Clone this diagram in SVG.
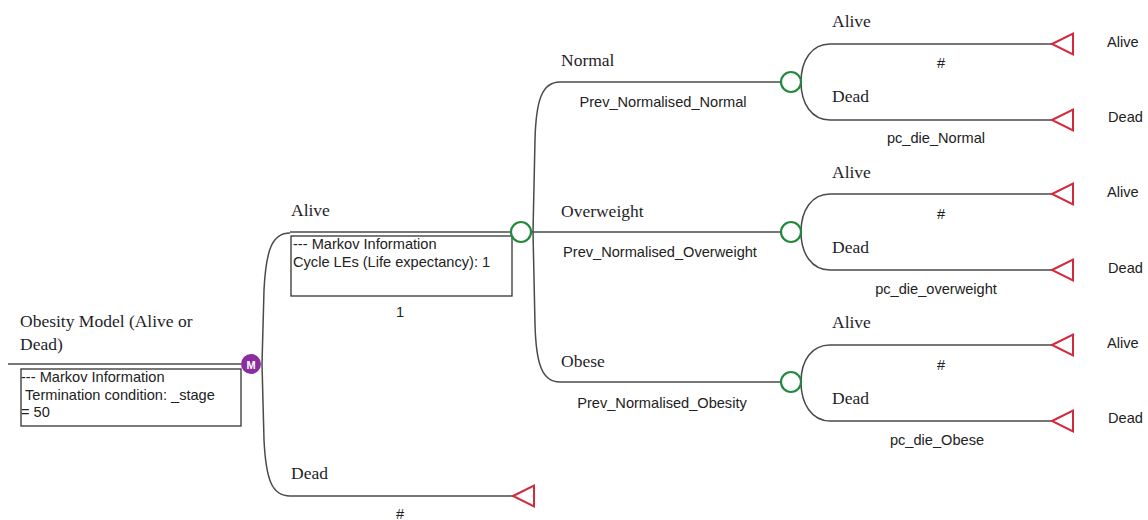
<svg xmlns="http://www.w3.org/2000/svg" width="1148" height="520" viewBox="0 0 1148 520">
<defs>
<style>
.ln{fill:none;stroke:#4a4a4a;stroke-width:1.5}
.box{fill:#fff;stroke:#333;stroke-width:1.3}
.ch{fill:#fff;stroke:#23893f;stroke-width:2.2}
.tm{fill:#fff;stroke:#d2293c;stroke-width:2}
.lbl{font-family:"Liberation Serif","Times New Roman",serif;font-size:17.5px;fill:#1e1e28}
.sm{font-family:"Liberation Sans",Arial,sans-serif;font-size:14.6px;fill:#222}
.mid{text-anchor:middle}
</style>
<polygon id="tri" points="0,0 21,-10.5 21,10.5"/>
</defs>
<rect width="1148" height="520" fill="#fff"/>
<g id="connectors">
<line class="ln" x1="8" y1="364" x2="241" y2="364"/>
<path class="ln" d="M290,233 C272,233 266,250 264,290 L262,364 L264,440 C266,480 272,496 290,496"/>
<line class="ln" x1="290" y1="232" x2="511" y2="232"/>
<line class="ln" x1="290" y1="496" x2="513" y2="496"/>
<line class="ln" x1="531" y1="232" x2="781" y2="232"/>
<path class="ln" d="M560,82 C542,82 536,100 535,140 L533,232 L535,324 C536,364 542,382 560,382"/>
<line class="ln" x1="560" y1="82" x2="781" y2="82"/>
<line class="ln" x1="560" y1="382" x2="781" y2="382"/>
<path class="ln" d="M830,44 C812,44 801,60 801,82 C801,104 812,120 830,120 M830,44 L1052,44 M830,120 L1052,120"/>
<path class="ln" d="M830,194 C812,194 801,210 801,232 C801,254 812,270 830,270 M830,194 L1052,194 M830,270 L1052,270"/>
<path class="ln" d="M830,345 C812,345 801,360 801,382 C801,404 812,421 830,421 M830,345 L1052,345 M830,421 L1052,421"/>
</g>
<g id="root">
<text class="lbl" x="20" y="327" font-size="18">Obesity Model (Alive or</text>
<text class="lbl" x="20" y="350" font-size="18">Dead)</text>
<rect class="box" x="21" y="369" width="220" height="57"/>
<text class="sm" x="21" y="382">--- Markov Information</text>
<text class="sm" x="25" y="400">Termination condition: _stage</text>
<text class="sm" x="21" y="417">= 50</text>
<circle cx="251" cy="364" r="10" fill="#8b2d9e"/>
<text x="251" y="369" text-anchor="middle" font-family="Liberation Sans,Arial,sans-serif" font-size="11" font-weight="bold" fill="#fff">M</text>
</g>
<g id="alive1">
<text class="lbl" x="291" y="216">Alive</text>
<rect class="box" x="291" y="236" width="221" height="60"/>
<text class="sm" x="293" y="249">--- Markov Information</text>
<text class="sm" x="293" y="267">Cycle LEs (Life expectancy): 1</text>
<text class="sm mid" x="400" y="317">1</text>
<circle class="ch" cx="521" cy="232" r="10"/>
</g>
<g id="dead1">
<text class="lbl" x="291" y="479">Dead</text>
<use href="#tri" class="tm" x="513" y="496"/>
<text class="sm mid" x="400" y="519">#</text>
</g>
<g id="normal">
<text class="lbl" x="561" y="66">Normal</text>
<text class="sm mid" x="663" y="107">Prev_Normalised_Normal</text>
<circle class="ch" cx="791" cy="82" r="10"/>
</g>
<g id="overweight">
<text class="lbl" x="561" y="217">Overweight</text>
<text class="sm mid" x="660" y="257">Prev_Normalised_Overweight</text>
<circle class="ch" cx="791" cy="232" r="10"/>
</g>
<g id="obese">
<text class="lbl" x="561" y="367">Obese</text>
<text class="sm mid" x="662" y="408">Prev_Normalised_Obesity</text>
<circle class="ch" cx="791" cy="382" r="10"/>
</g>
<g id="normal-alive">
<text class="lbl" x="832" y="27">Alive</text>
<text class="sm mid" x="941" y="68">#</text>
<use href="#tri" class="tm" x="1052" y="44"/>
<text class="sm" x="1107" y="47">Alive</text>
</g>
<g id="normal-dead">
<text class="lbl" x="832" y="102">Dead</text>
<text class="sm mid" x="936" y="143">pc_die_Normal</text>
<use href="#tri" class="tm" x="1052" y="120"/>
<text class="sm" x="1108" y="122">Dead</text>
</g>
<g id="overweight-alive">
<text class="lbl" x="832" y="178">Alive</text>
<text class="sm mid" x="941" y="219">#</text>
<use href="#tri" class="tm" x="1052" y="194"/>
<text class="sm" x="1107" y="197">Alive</text>
</g>
<g id="overweight-dead">
<text class="lbl" x="832" y="253">Dead</text>
<text class="sm mid" x="936" y="294">pc_die_overweight</text>
<use href="#tri" class="tm" x="1052" y="270"/>
<text class="sm" x="1108" y="273">Dead</text>
</g>
<g id="obese-alive">
<text class="lbl" x="832" y="328">Alive</text>
<text class="sm mid" x="941" y="370">#</text>
<use href="#tri" class="tm" x="1052" y="345"/>
<text class="sm" x="1107" y="348">Alive</text>
</g>
<g id="obese-dead">
<text class="lbl" x="832" y="404">Dead</text>
<text class="sm mid" x="937" y="445">pc_die_Obese</text>
<use href="#tri" class="tm" x="1052" y="421"/>
<text class="sm" x="1108" y="423">Dead</text>
</g>
</svg>
